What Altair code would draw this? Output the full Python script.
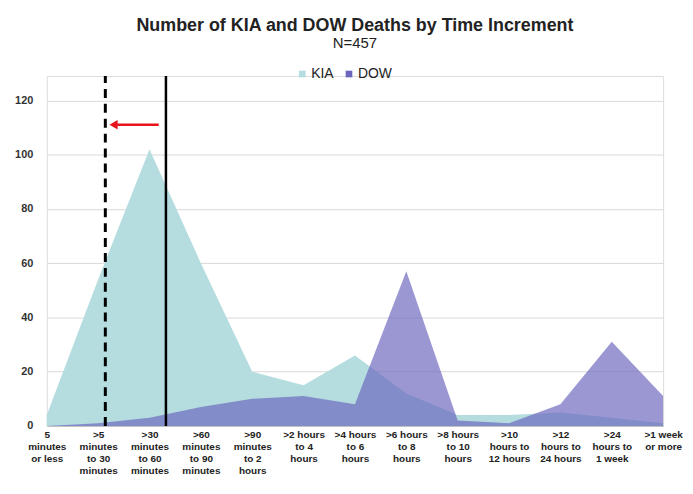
import altair as alt
import pandas as pd

categories = [
    ["5", "minutes", "or less"],
    [">5", "minutes", "to 30", "minutes"],
    [">30", "minutes", "to 60", "minutes"],
    [">60", "minutes", "to 90", "minutes"],
    [">90", "minutes", "to 2", "hours"],
    [">2 hours", "to 4", "hours"],
    [">4 hours", "to 6", "hours"],
    [">6 hours", "to 8", "hours"],
    [">8 hours", "to 10", "hours"],
    [">10", "hours to", "12 hours"],
    [">12", "hours to", "24 hours"],
    [">24", "hours to", "1 week"],
    [">1 week", "or more"],
]
kia = [4, 54, 102, 60, 20, 15, 26, 12, 4, 4, 5, 3, 1]
dow = [0, 1, 3, 7, 10, 11, 8, 57, 2, 1, 8, 31, 11]

# annotation positions (category-index units / count units)
dashed_x = [1.14]
solid_x = [2.32]
arrow_from = [2.18]
arrow_to = [1.3]
arrow_y = [111]

idx = list(range(len(categories)))
df = pd.DataFrame(
    {"i": idx * 2, "v": kia + dow, "s": ["KIA"] * len(idx) + ["DOW"] * len(idx)}
)

FONT = "Liberation Sans"
ymax = 129

label_expr = "[" + ",".join(
    "[" + ",".join("'" + t + "'" for t in c) + "]" for c in categories
) + "][datum.value]"

xenc = alt.X(
    "i:Q",
    scale=alt.Scale(domain=[0, len(idx) - 1], nice=False, zero=False),
    axis=alt.Axis(
        values=idx, labelExpr=label_expr, title=None, ticks=False, grid=False,
        domainColor="#bfbfbf", labelFont=FONT, labelFontSize=10,
        labelFontWeight="bold", labelColor="#222222", labelLineHeight=12,
        labelPadding=4, labelAngle=0, labelBaseline="top", labelOverlap=False,
        labelFlush=False, labelBound=False, labelAlign="center",
    ),
)
yscale = alt.Scale(domain=[0, ymax], nice=False)
yenc = alt.Y(
    "v:Q", scale=yscale, stack=None,
    axis=alt.Axis(
        values=[0, 20, 40, 60, 80, 100, 120], title=None, ticks=False,
        domain=False, gridColor="#d9d9d9", labelFont=FONT, labelFontSize=11,
        labelFontWeight="bold", labelColor="#333333", labelPadding=14,
    ),
)
color = alt.Color(
    "s:N",
    scale=alt.Scale(domain=["KIA", "DOW"], range=["#b5dcdf", "#6a66bd"]),
    legend=alt.Legend(
        title=None, orient="none", legendX=250, legendY=-9, direction="horizontal",
        symbolType="square", symbolSize=45, labelFont=FONT, labelFontSize=14,
        labelColor="#222222", columnPadding=8, symbolStrokeWidth=0, labelOffset=2,
    ),
)

kia_area = alt.Chart(df).transform_filter(alt.datum.s == "KIA").mark_area(
    opacity=1
).encode(x=xenc, y=yenc, color=color)
dow_area = alt.Chart(df).transform_filter(alt.datum.s == "DOW").mark_area(
    opacity=0.68
).encode(x=xenc, y=yenc, color=color)

vdf = pd.DataFrame({"x": dashed_x + solid_x, "kind": ["dash", "solid"], "y0": [0, 0], "y1": [ymax, ymax]})
dash_rule = alt.Chart(vdf).transform_filter(alt.datum.kind == "dash").mark_rule(
    color="black", strokeWidth=3, strokeDash=[9, 6]
).encode(x="x:Q", y=alt.Y("y0:Q", scale=yscale), y2="y1:Q")
solid_rule = alt.Chart(vdf).transform_filter(alt.datum.kind == "solid").mark_rule(
    color="black", strokeWidth=2.5
).encode(x="x:Q", y=alt.Y("y0:Q", scale=yscale), y2="y1:Q")

adf = pd.DataFrame({"x1": arrow_from, "x2": arrow_to, "y": arrow_y})
arrow_line = alt.Chart(adf).mark_rule(color="#e8141c", strokeWidth=2.5).encode(
    x="x1:Q", x2="x2:Q", y=alt.Y("y:Q", scale=yscale)
)
arrow_head = alt.Chart(adf).mark_point(
    shape="triangle-left", filled=True, color="#e8141c", size=90, opacity=1
).encode(x="x2:Q", y=alt.Y("y:Q", scale=yscale))

chart = alt.layer(
    kia_area, dow_area, dash_rule, solid_rule, arrow_line, arrow_head
).properties(
    width=620, height=352,
    title=alt.TitleParams(
        text="Number of KIA and DOW Deaths by Time Increment",
        subtitle="N=457", anchor="middle", frame="group", font=FONT,
        fontSize=18, fontWeight="bold", color="#222222", subtitleFont=FONT,
        subtitleFontSize=15, subtitleColor="#222222", subtitlePadding=1, offset=16,
    ),
    autosize=alt.AutoSizeParams(type="none"),
    padding={"left": 39, "top": 67, "right": 22, "bottom": 59},
).configure_view(stroke=None).configure(background="white")

chart.save("out.html", embed_options={"renderer": "svg", "actions": False})
